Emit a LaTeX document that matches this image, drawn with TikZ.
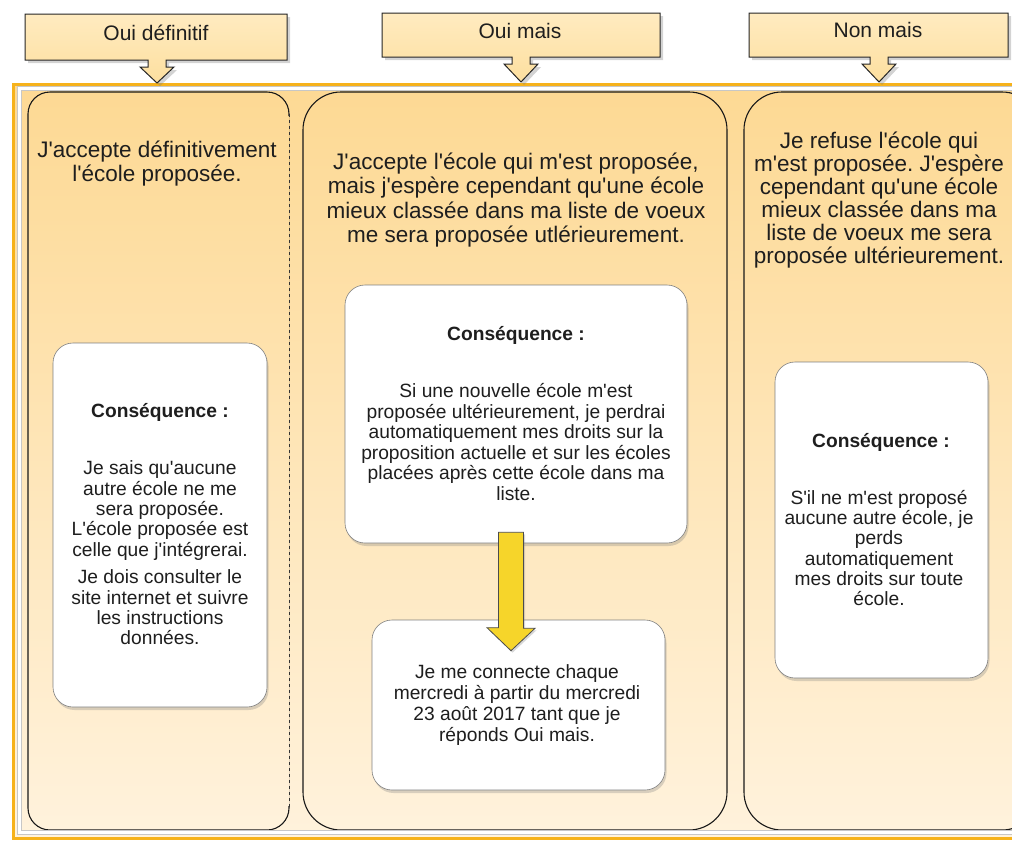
\documentclass[tikz,border=0pt]{standalone}
\usepackage{fontspec}
\setmainfont{Liberation Sans}[Ligatures=TeXOff]
\usetikzlibrary{shadows,calc}
\definecolor{peachD}{HTML}{FDD994}
\definecolor{peachL}{HTML}{FFF2DC}
\definecolor{hdrD}{HTML}{FDDF9F}
\definecolor{hdrL}{HTML}{FFEBC0}
\definecolor{frameor}{HTML}{F6B21B}
\definecolor{yel}{HTML}{F6D52A}
\definecolor{txt}{HTML}{1E1E1E}
\frenchspacing
\begin{document}
\begin{tikzpicture}[x=1pt,y=-1pt,
  hdrbox/.style={draw=black!85, line width=1pt, top color=hdrL, bottom color=hdrD,
    drop shadow={shadow xshift=3pt,shadow yshift=-3pt,opacity=.35}},
  col/.style={draw=black!90, line width=1.1pt, top color=peachD, bottom color=peachL},
  colline/.style={draw=black!90, line width=1.1pt},
  card/.style={draw=black!50, line width=.6pt, fill=white, rounded corners=20pt,
    drop shadow={shadow xshift=1.5pt,shadow yshift=-3pt,opacity=.3}},
  yarrow/.style={draw=black!70, line width=.8pt, fill=yel,
    drop shadow={shadow xshift=1.5pt,shadow yshift=-2pt,opacity=.3}},
  title/.style={font=\fontsize{22.5}{24}\selectfont, text=txt, align=center, inner sep=0pt},
  body/.style={font=\fontsize{19.2}{20.4}\selectfont, text=txt, align=center, inner sep=0pt},
  conseq/.style={font=\bfseries\fontsize{19.2}{20.4}\selectfont, text=txt, inner sep=0pt},
  hdrtext/.style={font=\fontsize{21}{24}\selectfont, text=txt, inner sep=0pt},
]
\useasboundingbox (0,0) rectangle (1012,841);
\begin{scope}
\clip (0,0) rectangle (1012,841);
% frame background
\fill[top color=peachD, bottom color=peachL] (13.5,84.5) rectangle (1030,838.5);
% columns
\fill[top color=peachD, bottom color=peachL, rounded corners=22pt] (28,92) rectangle (289,830);
\draw[colline, rounded corners=22pt] (289,116) -- (289,92) -- (28,92) -- (28,830) -- (289,830) -- (289,806);
\draw[black!80, line width=.8pt, dashed] (289,114) -- (289,808);
\path[col, rounded corners=38pt] (303,92) rectangle (727,830);
\path[col, rounded corners=38pt] (744,92) rectangle (1040,830);
% frame lines
\draw[frameor, line width=3pt] (13.5,84.5) rectangle (1030,838.5);
\draw[black!22, line width=4.5pt] (19.5,88.5) rectangle (1030,832.5);
\draw[white, line width=3pt] (19.5,88.5) rectangle (1030,832.5);
\end{scope}

% header callouts
\path[hdrbox] (25,14) -- (287,14) -- (287,60) -- (166,60) -- (166,67) -- (174,67) -- (157,83)
  -- (140,67) -- (148,67) -- (148,60) -- (25,60) -- cycle;
\node[hdrtext] (h1) at (156,33) {Oui définitif};
\path[hdrbox] (382,13) -- (660,13) -- (660,57) -- (530,57) -- (530,64) -- (538,64) -- (521,82)
  -- (504,64) -- (512,64) -- (512,57) -- (382,57) -- cycle;
\node[hdrtext] (h2) at (520,31) {Oui mais};
\path[hdrbox] (749,13) -- (1008,13) -- (1008,57) -- (888,57) -- (888,64) -- (896,64) -- (879,82)
  -- (862,64) -- (870,64) -- (870,57) -- (749,57) -- cycle;
\node[hdrtext] (h3) at (878,30) {Non mais};

% column titles
\node[title] (t1) at (157,164) {J'accepte définitivement\\l'école proposée.};
\node[title, font=\fontsize{22.5}{24.3}\selectfont] (t2) at (516,200) {J'accepte l'école qui m'est proposée,\\mais j'espère cependant qu'une école\\mieux classée dans ma liste de voeux\\me sera proposée utlérieurement.};
\node[title, font=\fontsize{22.5}{23}\selectfont] (t3) at (879,200) {Je refuse l'école qui\\m'est proposée. J'espère\\cependant qu'une école\\mieux classée dans ma\\liste de voeux me sera\\proposée ultérieurement.};

% cards
\node[card, minimum width=214pt, minimum height=364pt, inner sep=0pt] (c1) at (160,525) {};
\node[conseq] (c1h) at (160,412) {Conséquence :};
\node[body] (c1b) at (160,553) {Je sais qu'aucune\\autre école ne me\\sera proposée.\\L'école proposée est\\celle que j'intégrerai.\\[7pt]Je dois consulter le\\site internet et suivre\\les instructions\\données.};

\node[card, minimum width=342pt, minimum height=258pt, inner sep=0pt] (c2a) at (516,414) {};
\node[conseq] (c2h) at (516,335) {Conséquence :};
\node[body, font=\fontsize{19.2}{20.6}\selectfont] (c2b1) at (516,442) {Si une nouvelle école m'est\\proposée ultérieurement, je perdrai\\automatiquement mes droits sur la\\proposition actuelle et sur les écoles\\placées après cette école dans ma\\liste.};

\node[card, minimum width=293pt, minimum height=170pt, inner sep=0pt] (c2b) at (518.5,705) {};
\node[body, font=\fontsize{19.2}{21.3}\selectfont] (c2bt) at (517,705) {Je me connecte chaque\\mercredi à partir du mercredi\\23 août 2017 tant que je\\réponds Oui mais.};

\node[card, minimum width=213pt, minimum height=316pt, inner sep=0pt] (c3) at (881.5,520) {};
\node[conseq] (c3h) at (881,442) {Conséquence :};
\node[body, font=\fontsize{19.2}{20.3}\selectfont] (c3b) at (879,548) {S'il ne m'est proposé\\aucune autre école, je\\perds\\automatiquement\\mes droits sur toute\\école.};

% yellow arrow between the two cards
\coordinate (yt) at ($(c2a.south)+(-5,-11)$);
\coordinate (ytip) at ($(c2b.north)+(-7.5,31)$);
\path[yarrow] (yt) ++(-12.5,0) -- ++(25,0) -- ++(0,96) -- ++(11.5,0) -- (ytip)
  -- ++(-24,-23) -- ++(11.5,0) -- cycle;
\end{tikzpicture}
\end{document}
